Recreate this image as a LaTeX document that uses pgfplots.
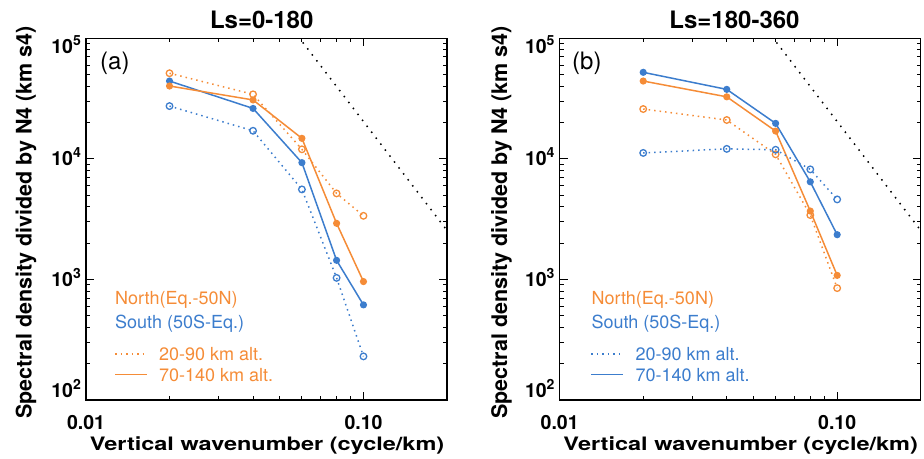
\documentclass[border=0pt]{standalone}
\usepackage{fontspec}
\setmainfont{TeX Gyre Heros}
\newfontfamily\widefont[FakeStretch=1.27]{TeX Gyre Heros}
\usepackage{pgfplots}
\pgfplotsset{compat=1.18}

\definecolor{north}{RGB}{245,140,55}
\definecolor{south}{RGB}{60,125,205}

% tick label 10^n, set in the text font
\newcommand\tlab[1]{10\raisebox{8pt}{\fontsize{14}{14}\selectfont #1}}

\tikzset{
  dotl/.style={line width=1.5pt, dash pattern=on 1.5pt off 4pt},
  fulll/.style={line width=1.5pt, solid},
  openm/.style={mark=o, mark size=3.3pt, mark options={solid, line width=1.3pt}},
  fillm/.style={mark=*, mark size=2.8pt, mark options={solid}},
  xlab/.style={anchor=base, inner sep=0pt, font=\widefont\fontsize{18.5}{18.5}\selectfont\bfseries},
  ylab/.style={anchor=base, inner sep=0pt, rotate=90, font=\fontsize{21.5}{21.5}\selectfont\bfseries},
  ttl/.style={anchor=base, inner sep=0pt, font=\fontsize{24}{24}\selectfont\bfseries},
  leg/.style={inner sep=0pt, font=\fontsize{18}{18}\selectfont},
}
\pgfplotsset{
  every axis/.append style={
    scale only axis, width=361pt, height=361.7pt,
    xmin=0.01, xmax=0.2, ymin=100, ymax=100000,
    xtick={0.01,0.1}, xticklabels={0.01,0.10},
    ytick={100,1000,10000,100000},
    yticklabels={\raisebox{9pt}[\height][\depth]{\tlab{2}},\tlab{3},\tlab{4},\raisebox{-8pt}[\height][\depth]{\tlab{5}}},
    minor xtick={0.02,0.03,0.04,0.05,0.06,0.07,0.08,0.09,0.2},
    minor ytick={200,300,400,500,600,700,800,900,2000,3000,4000,5000,6000,7000,8000,9000,20000,30000,40000,50000,60000,70000,80000,90000},
    tick align=inside,
    major tick length=8pt, minor tick length=4pt,
    tick style={black, line width=1pt},
    axis line style={line width=1.5pt},
    /pgf/number format/assume math mode=true,
    ticklabel style={font=\fontsize{19.5}{19.5}\selectfont\bfseries},
    xticklabel style={anchor=north, inner sep=0pt, yshift=-15.5pt},
    yticklabel style={anchor=base east, inner sep=0pt, xshift=-5pt, yshift=-7pt},
  },
}

\begin{document}
\begin{tikzpicture}[x=1pt,y=1pt]
\useasboundingbox (0,0) rectangle (924,458);

% ---- (a) Ls=0-180
\begin{loglogaxis}[at={(86pt,58pt)}, anchor=south west]
\addplot[black, line width=1.5pt, dash pattern=on 1.5pt off 6pt] coordinates {(0.05,163200) (0.2,2550)};
\addplot[south, dotl, openm] coordinates {(0.02,27400) (0.04,17100) (0.06,5580) (0.08,1030) (0.1,230)};
\addplot[south, fulll, fillm] coordinates {(0.02,44200) (0.04,26200) (0.06,9300) (0.08,1440) (0.1,615)};
\addplot[north, dotl, openm] coordinates {(0.02,51300) (0.04,34300) (0.06,12000) (0.08,5170) (0.1,3370)};
\addplot[north, fulll, fillm] coordinates {(0.02,40200) (0.04,30800) (0.06,14800) (0.08,2920) (0.1,960)};
\end{loglogaxis}
\node[anchor=west, inner sep=0pt, font=\fontsize{24}{24}\selectfont] at (100,395) {(a)};
\node[leg, anchor=base west, text=north] at (115,153.5) {North(Eq.-50N)};
\node[leg, anchor=base west, text=south] at (115,129.2) {South (50S-Eq.)};
\draw[north, dotl] (115,104) -- (147,104);
\draw[north, fulll] (115,83.3) -- (147,83.3);
\node[leg, anchor=base west, text=north] at (159,97.5) {20-90 km alt.};
\node[leg, anchor=base west, text=north] at (159,76.8) {70-140 km alt.};
\node[ttl] at (261.7,429.7) {Ls=0-180};
\node[xlab] at (267,7.5) {Vertical wavenumber (cycle/km)};
\node[ylab] at (31.7,235.5) {Spectral density divided by N4 (km s4)};

% ---- (b) Ls=180-360
\begin{loglogaxis}[at={(559.7pt,58pt)}, anchor=south west]
\addplot[black, line width=1.5pt, dash pattern=on 1.5pt off 6pt] coordinates {(0.05,163200) (0.2,2550)};
\addplot[north, dotl, openm] coordinates {(0.02,25900) (0.04,21000) (0.06,10900) (0.08,3420) (0.1,847)};
\addplot[north, fulll, fillm] coordinates {(0.02,44200) (0.04,32700) (0.06,17000) (0.08,3690) (0.1,1080)};
\addplot[south, dotl, openm] coordinates {(0.02,11200) (0.04,12100) (0.06,11900) (0.08,8180) (0.1,4610)};
\addplot[south, fulll, fillm] coordinates {(0.02,52200) (0.04,37700) (0.06,19700) (0.08,6450) (0.1,2350)};
\end{loglogaxis}
\node[anchor=west, inner sep=0pt, font=\fontsize{24}{24}\selectfont] at (572,395) {(b)};
\node[leg, anchor=base west, text=north] at (591.3,153.5) {North(Eq.-50N)};
\node[leg, anchor=base west, text=south] at (591.3,129.2) {South (50S-Eq.)};
\draw[south, dotl] (591.3,104) -- (623.3,104);
\draw[south, fulll] (591.3,83.3) -- (623.3,83.3);
\node[leg, anchor=base west, text=south] at (635.3,97.5) {20-90 km alt.};
\node[leg, anchor=base west, text=south] at (635.3,76.8) {70-140 km alt.};
\node[ttl] at (734.5,429.7) {Ls=180-360};
\node[xlab] at (740.7,7.5) {Vertical wavenumber (cycle/km)};
\node[ylab] at (507,235.5) {Spectral density divided by N4 (km s4)};
\end{tikzpicture}
\end{document}
